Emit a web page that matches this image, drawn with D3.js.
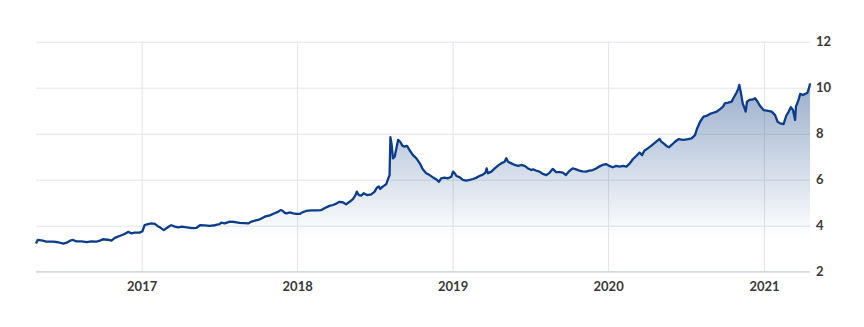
<!DOCTYPE html>
<html>
<head>
<meta charset="utf-8">
<script src="https://cdn.jsdelivr.net/npm/d3@7"></script>
<style>
  html, body { margin: 0; padding: 0; background: #ffffff; }
  svg { display: block; }
  .tick text { font-family: Lato, "Open Sans", sans-serif; }
</style>
</head>
<body>
<svg id="chart" width="864" height="327"></svg>
<script>
const dates = [
"2016-04-28","2016-05-02","2016-05-14","2016-05-22","2016-06-07","2016-06-19","2016-07-01","2016-07-09","2016-07-17","2016-07-24",
"2016-08-01","2016-08-13","2016-08-25","2016-09-05","2016-09-17","2016-09-25","2016-10-02","2016-10-14","2016-10-22","2016-10-30",
"2016-11-10","2016-11-22","2016-11-30","2016-12-03","2016-12-08","2016-12-15","2016-12-27","2017-01-03","2017-01-08","2017-01-16",
"2017-01-24","2017-02-01","2017-02-08","2017-02-13","2017-02-22","2017-02-28","2017-03-08","2017-03-12","2017-03-20","2017-03-28",
"2017-04-05","2017-04-17","2017-04-29","2017-05-10","2017-05-18","2017-05-29","2017-06-10","2017-06-22","2017-07-03","2017-07-07",
"2017-07-15","2017-07-27","2017-08-08","2017-08-19","2017-08-31","2017-09-08","2017-09-16","2017-09-24","2017-10-01","2017-10-09",
"2017-10-17","2017-10-29","2017-11-09","2017-11-17","2017-11-23","2017-11-28","2017-12-03","2017-12-07","2017-12-15","2017-12-23",
"2017-12-30","2018-01-07","2018-01-13","2018-01-22","2018-02-03","2018-02-15","2018-02-27","2018-03-06","2018-03-18","2018-03-26",
"2018-04-03","2018-04-10","2018-04-18","2018-04-26","2018-05-04","2018-05-12","2018-05-18","2018-05-21","2018-05-26","2018-06-01",
"2018-06-06","2018-06-14","2018-06-24","2018-07-02","2018-07-07","2018-07-12","2018-07-15","2018-07-21","2018-07-29","2018-08-03",
"2018-08-06","2018-08-08","2018-08-11","2018-08-14","2018-08-18","2018-08-22","2018-08-26","2018-08-31","2018-09-05","2018-09-10",
"2018-09-16","2018-09-22","2018-09-30","2018-10-08","2018-10-16","2018-10-23","2018-10-31","2018-11-08","2018-11-16","2018-11-23",
"2018-11-30","2018-12-05","2018-12-13","2018-12-21","2018-12-29","2019-01-02","2019-01-06","2019-01-10","2019-01-18","2019-01-25",
"2019-02-02","2019-02-10","2019-02-18","2019-02-26","2019-03-05","2019-03-13","2019-03-19","2019-03-22","2019-03-25","2019-04-02",
"2019-04-10","2019-04-17","2019-04-25","2019-05-03","2019-05-07","2019-05-11","2019-05-19","2019-05-27","2019-06-04","2019-06-11",
"2019-06-19","2019-06-27","2019-07-05","2019-07-09","2019-07-17","2019-07-24","2019-08-01","2019-08-09","2019-08-17","2019-08-24",
"2019-09-01","2019-09-09","2019-09-17","2019-09-24","2019-10-02","2019-10-10","2019-10-18","2019-10-26","2019-11-02","2019-11-10",
"2019-11-18","2019-11-26","2019-12-04","2019-12-11","2019-12-19","2019-12-27","2020-01-04","2020-01-12","2020-01-20","2020-01-28",
"2020-02-05","2020-02-13","2020-02-21","2020-02-28","2020-03-07","2020-03-15","2020-03-21","2020-03-26","2020-04-03","2020-04-11",
"2020-04-18","2020-04-26","2020-05-01","2020-05-05","2020-05-09","2020-05-17","2020-05-23","2020-05-29","2020-06-06","2020-06-14",
"2020-06-26","2020-07-07","2020-07-15","2020-07-23","2020-07-28","2020-08-04","2020-08-12","2020-08-19","2020-08-27","2020-09-04",
"2020-09-12","2020-09-19","2020-09-27","2020-10-01","2020-10-09","2020-10-17","2020-10-21","2020-10-27","2020-11-02","2020-11-04",
"2020-11-08","2020-11-12","2020-11-15","2020-11-19","2020-11-22","2020-11-28","2020-12-06","2020-12-11","2020-12-17","2020-12-23",
"2020-12-31","2021-01-08","2021-01-19","2021-01-27","2021-02-02","2021-02-08","2021-02-16","2021-02-22","2021-02-28","2021-03-05",
"2021-03-10","2021-03-15","2021-03-17","2021-03-23","2021-03-27","2021-04-02","2021-04-08","2021-04-13","2021-04-18","2021-04-19"
];
const values = [
3.23,3.38,3.35,3.31,3.31,3.28,3.22,3.26,3.35,3.38,
3.32,3.32,3.29,3.32,3.31,3.35,3.41,3.39,3.35,3.47,
3.55,3.64,3.73,3.71,3.67,3.70,3.70,3.76,4.03,4.07,
4.10,4.08,3.98,3.93,3.81,3.89,3.99,4.02,3.96,3.93,
3.96,3.93,3.89,3.91,4.02,4.01,3.99,4.02,4.07,4.13,
4.10,4.18,4.16,4.12,4.11,4.10,4.18,4.22,4.25,4.31,
4.39,4.45,4.54,4.60,4.68,4.65,4.56,4.54,4.58,4.54,
4.52,4.51,4.58,4.64,4.67,4.67,4.68,4.76,4.86,4.90,
4.96,5.04,5.02,4.93,5.04,5.16,5.33,5.48,5.33,5.31,
5.41,5.33,5.36,5.48,5.65,5.71,5.60,5.70,5.80,6.06,
6.20,7.85,7.51,6.93,7.00,7.36,7.73,7.65,7.48,7.44,
7.47,7.28,7.07,6.93,6.71,6.45,6.28,6.20,6.10,6.02,
5.91,6.06,6.09,6.06,6.13,6.35,6.28,6.16,6.10,5.99,
5.96,5.99,6.03,6.09,6.16,6.22,6.31,6.49,6.28,6.35,
6.49,6.60,6.71,6.78,6.93,6.78,6.71,6.64,6.60,6.64,
6.60,6.49,6.42,6.45,6.39,6.35,6.25,6.20,6.31,6.47,
6.33,6.33,6.31,6.20,6.38,6.49,6.45,6.39,6.36,6.35,
6.39,6.42,6.49,6.57,6.64,6.68,6.60,6.54,6.60,6.57,
6.60,6.57,6.71,6.89,7.03,7.18,7.07,7.26,7.36,7.47,
7.58,7.70,7.77,7.65,7.60,7.47,7.41,7.51,7.65,7.76,
7.73,7.76,7.80,7.94,8.23,8.52,8.74,8.77,8.86,8.91,
8.96,9.06,9.18,9.32,9.35,9.39,9.54,9.73,9.97,10.12,
9.76,9.32,9.18,8.96,9.39,9.47,9.49,9.54,9.39,9.20,
9.03,9.00,8.96,8.81,8.52,8.45,8.42,8.77,8.96,9.15,
9.03,8.60,9.18,9.47,9.73,9.68,9.73,9.78,10.07,10.19
];
const yTicks = [2, 4, 6, 8, 10, 12];
const xTickYears = ["2017", "2018", "2019", "2020", "2021"];

const parse = d3.timeParse("%Y-%m-%d");
const data = dates.map((d, i) => ({ date: parse(d), value: values[i] }));

const svg = d3.select("#chart");
const plotLeft = 36, plotRight = 810, plotTop = 41.7, plotBottom = 271.7;

const x = d3.scaleTime().domain(d3.extent(data, d => d.date)).range([plotLeft, plotRight]);
const y = d3.scaleLinear().domain([2, 12]).range([plotBottom, plotTop]);

// gradient
const defs = svg.append("defs");
const grad = defs.append("linearGradient")
  .attr("id", "areaGrad").attr("gradientUnits", "userSpaceOnUse")
  .attr("x1", 0).attr("x2", 0).attr("y1", y(10.2)).attr("y2", y(3.5));
grad.append("stop").attr("offset", 0).attr("stop-color", "#1e4b8c").attr("stop-opacity", 0.45);
grad.append("stop").attr("offset", 1).attr("stop-color", "#1e4b8c").attr("stop-opacity", 0);

// horizontal grid + right axis
const yAxis = d3.axisRight(y).tickValues(yTicks).tickSize(-(plotRight - plotLeft)).tickPadding(6);
const gy = svg.append("g").attr("transform", `translate(${plotRight},0)`).call(yAxis);
gy.select(".domain").remove();
gy.selectAll(".tick line").attr("stroke", "#e2e4e8").attr("stroke-width", 1);
gy.selectAll(".tick text").attr("fill", "#383838").attr("font-size", 13).attr("font-weight", 700).attr("x", 6);

// vertical grid + bottom axis
const xTickDates = xTickYears.map(s => parse(s + "-01-01"));
const xAxis = d3.axisBottom(x).tickValues(xTickDates).tickFormat(d3.timeFormat("%Y"))
  .tickSize(-(plotBottom - plotTop)).tickPadding(10);
const gx = svg.append("g").attr("transform", `translate(0,${plotBottom})`).call(xAxis);
gx.select(".domain").remove();
gx.selectAll(".tick line").attr("stroke", "#e2e4e8").attr("stroke-width", 1);
gx.selectAll(".tick text").attr("fill", "#383838").attr("font-size", 13).attr("font-weight", 700);

// baseline
svg.append("line").attr("x1", plotLeft).attr("x2", plotRight).attr("y1", y(2)).attr("y2", y(2))
  .attr("stroke", "#d4dae2").attr("stroke-width", 1.5);

// area
const area = d3.area().x(d => x(d.date)).y0(y(2)).y1(d => y(d.value));
svg.append("path").datum(data).attr("d", area).attr("fill", "url(#areaGrad)");

// line
const line = d3.line().x(d => x(d.date)).y(d => y(d.value));
svg.append("path").datum(data).attr("d", line)
  .attr("fill", "none").attr("stroke", "#0b3d8c").attr("stroke-width", 2.3)
  .attr("stroke-linejoin", "round");
</script>
</body>
</html>
